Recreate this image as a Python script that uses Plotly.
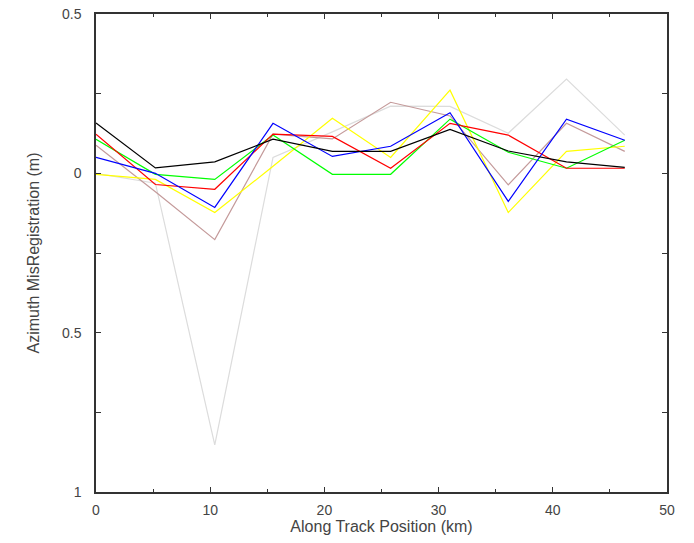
import plotly.graph_objects as go

x_km = [0, 5.2, 10.4, 15.5, 20.7, 25.8, 31.0, 36.1, 41.2, 46.3]

series_gray = [0.0, -0.031, -0.852, 0.05, 0.13, 0.211, 0.21, 0.126, 0.296, 0.12]
series_brown = [0.088, -0.058, -0.208, 0.123, 0.108, 0.223, 0.18, -0.036, 0.157, 0.069]
series_yellow = [-0.003, -0.019, -0.123, 0.022, 0.173, 0.05, 0.261, -0.123, 0.069, 0.085]
series_green = [0.107, -0.003, -0.019, 0.12, -0.003, -0.003, 0.17, 0.066, 0.016, 0.104]
series_red = [0.123, -0.035, -0.05, 0.123, 0.116, 0.016, 0.157, 0.12, 0.016, 0.016]
series_blue = [0.05, 0.0, -0.107, 0.157, 0.053, 0.085, 0.19, -0.088, 0.17, 0.104]
series_black = [0.158, 0.017, 0.036, 0.107, 0.069, 0.069, 0.138, 0.070, 0.036, 0.019]

y_tick_vals = [0.5, 0, -0.5, -1]
y_tick_text = ["0.5", "0", "0.5", "1"]
x_tick_vals = [0, 10, 20, 30, 40, 50]

traces = [
    (series_gray, "#dcdcdc"),
    (series_brown, "#c49a9a"),
    (series_yellow, "#ffff00"),
    (series_green, "#00ff00"),
    (series_red, "#ff0000"),
    (series_blue, "#0000ff"),
    (series_black, "#000000"),
]

fig = go.Figure()
for ys, col in traces:
    fig.add_trace(go.Scatter(x=x_km, y=ys, mode="lines",
                             line=dict(color=col, width=1.2), showlegend=False))

fam = "Liberation Sans, Arial, sans-serif"
tick_font = dict(family=fam, size=14, color="#444444")
title_font = dict(family=fam, size=16, color="#444444")

fig.update_layout(
    width=694, height=543,
    margin=dict(l=96, r=27, t=14, b=51, autoexpand=False),
    paper_bgcolor="white", plot_bgcolor="white",
    xaxis=dict(range=[0, 50], tickvals=x_tick_vals, ticks="inside", ticklen=5,
               tickcolor="#333333", showline=True, linecolor="#333333", linewidth=1.5,
               mirror="ticks", showgrid=False, zeroline=False, automargin=False,
               tickfont=tick_font, ticklabelstandoff=4,
               minor=dict(ticks="inside", ticklen=3, dtick=5, tickcolor="#333333", showgrid=False),
               title=dict(text="Along Track Position (km)", font=title_font, standoff=4)),
    yaxis=dict(range=[-1, 0.5], tickvals=y_tick_vals, ticktext=y_tick_text,
               ticks="inside", ticklen=5, tickcolor="#333333", showline=True,
               linecolor="#333333", linewidth=1.5, mirror="ticks", showgrid=False,
               zeroline=False, automargin=False, tickfont=tick_font, ticklabelstandoff=10,
               minor=dict(ticks="inside", ticklen=5, dtick=0.25, tickcolor="#333333", showgrid=False),
               title=dict(text="Azimuth MisRegistration (m)", font=title_font, standoff=18)),
)

fig.write_html("out.html", config={"displayModeBar": False},
               post_script="document.body.style.margin='0';document.body.style.overflow='hidden';")
